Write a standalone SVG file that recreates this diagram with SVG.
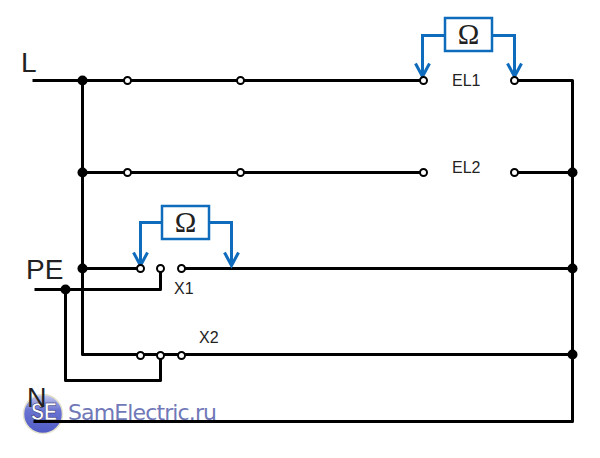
<svg xmlns="http://www.w3.org/2000/svg" width="600" height="458" viewBox="0 0 600 458">
<defs>
<linearGradient id="lg" x1="0" y1="0" x2="0" y2="1"><stop offset="0" stop-color="#c9cdec"/><stop offset="0.4" stop-color="#6a74d2"/><stop offset="1" stop-color="#4f5ac6"/></linearGradient>
</defs>
<style>
text{font-family:"Liberation Sans",Arial,sans-serif;fill:#222}
.w{fill:none;stroke:#000;stroke-width:3;stroke-linejoin:round}
.b{fill:none;stroke:#0f6cbd;stroke-width:3}
.t{fill:#fff;stroke:#000;stroke-width:2}
.d{fill:#000}
.lb{font-size:16px}
.big{font-size:27px}
.om{font-family:"Liberation Serif",serif;font-size:29px;text-anchor:middle}
.box{fill:#fff;stroke:#0f6cbd;stroke-width:2.5}
</style>
<rect width="600" height="458" fill="#fff"/>
<g id="logo">
<circle cx="43" cy="414" r="19.5" fill="url(#lg)" stroke="#e6e3cc" stroke-width="1.5"/>
<text x="31" y="420" font-size="24" font-weight="700" textLength="26" lengthAdjust="spacingAndGlyphs" style="fill:#fff;stroke:#23256a;stroke-width:.6">SE</text>
<text x="68" y="420" font-size="22" style="fill:#7078b8;font-family:'DejaVu Sans',sans-serif" textLength="149">SamElectric.ru</text>
</g>
<g id="connectors" transform="translate(.5 .5)">
<path class="w" d="M32 80H423"/>
<path class="w" d="M514 80H572V421H33"/>
<path class="w" d="M82 80V354H572"/>
<path class="w" d="M82 172H423M514 172H572"/>
<path class="w" d="M82 268H140M181 268H572"/>
<path class="w" d="M34 289H160V268"/>
<path class="w" d="M65 289V380H160V354"/>
<path class="b" d="M445 35H422V75M415 63L422 76L429 63"/>
<path class="b" d="M492 35H514V75M507 63L514 76L521 63"/>
<path class="b" d="M162 222H140V264M133 252L140 265L147 252"/>
<path class="b" d="M209 222H231V264M224 252L231 265L238 252"/>
</g>
<g id="junctions" transform="translate(.5 .5)">
<circle class="d" cx="82" cy="80" r="5"/>
<circle class="d" cx="82" cy="172" r="5"/>
<circle class="d" cx="82" cy="268" r="5"/>
<circle class="d" cx="65" cy="289" r="5"/>
<circle class="d" cx="572" cy="172" r="5"/>
<circle class="d" cx="572" cy="268" r="5"/>
<circle class="d" cx="572" cy="354" r="5"/>
</g>
<g id="terminals" transform="translate(.5 .5)">
<circle class="t" cx="127" cy="80" r="3.5"/>
<circle class="t" cx="240" cy="80" r="3.5"/>
<circle class="t" cx="423" cy="80" r="3.5"/>
<circle class="t" cx="514" cy="80" r="3.5"/>
<circle class="t" cx="127" cy="172" r="3.5"/>
<circle class="t" cx="240" cy="172" r="3.5"/>
<circle class="t" cx="423" cy="172" r="3.5"/>
<circle class="t" cx="514" cy="172" r="3.5"/>
<circle class="t" cx="140" cy="268" r="3.5"/>
<circle class="t" cx="160" cy="268" r="3.5"/>
<circle class="t" cx="181" cy="268" r="3.5"/>
<circle class="t" cx="140" cy="355" r="3.5"/>
<circle class="t" cx="160" cy="355" r="3.5"/>
<circle class="t" cx="181" cy="355" r="3.5"/>
</g>
<g id="meter1"><rect class="box" x="445" y="18" width="47" height="33"/><text class="om" x="468.5" y="44">Ω</text></g>
<g id="meter2"><rect class="box" x="162" y="206" width="47" height="33"/><text class="om" x="185.5" y="232">Ω</text></g>
<g id="labels">
<text class="big" x="21" y="72" style="font-size:28px">L</text>
<text class="big" x="26" y="279" style="font-size:28px">PE</text>
<text class="big" x="27" y="407">N</text>
<text class="lb" x="452" y="86">EL1</text>
<text class="lb" x="452" y="173">EL2</text>
<text class="lb" x="174" y="294">X1</text>
<text class="lb" x="199" y="343">X2</text>
</g>
</svg>
